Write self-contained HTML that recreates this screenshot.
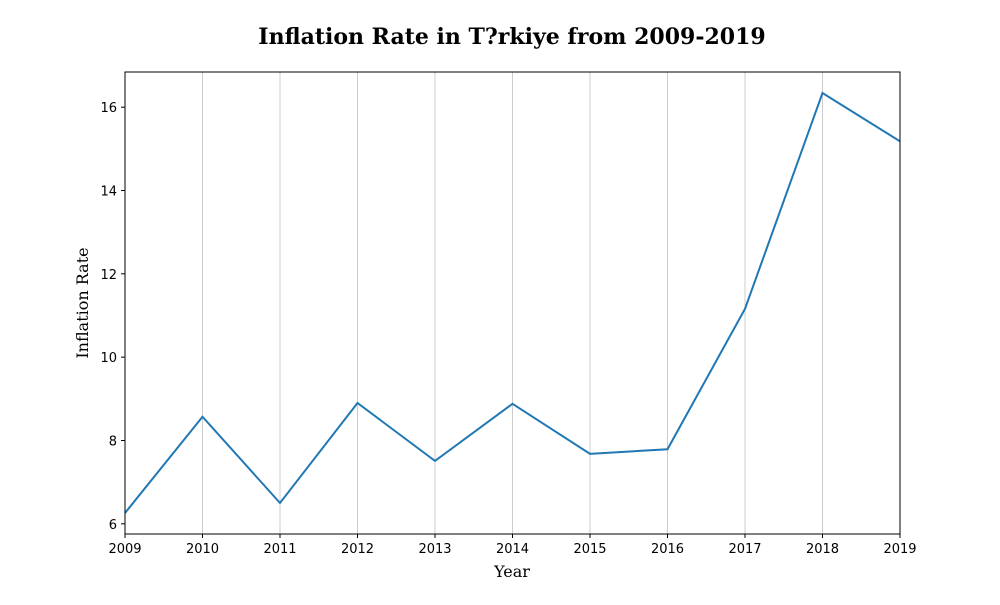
<!DOCTYPE html>
<html><head><meta charset="utf-8"><style>
body{margin:0;background:#fff;}
svg text{font-family:"DejaVu Sans","Liberation Sans",sans-serif;}
</style></head><body>
<svg id="chart" width="1000" height="600" xmlns="http://www.w3.org/2000/svg"></svg>
<script>
const years=[2009,2010,2011,2012,2013,2014,2015,2016,2017,2018,2019];
const rates=[6.26,8.57,6.50,8.90,7.51,8.88,7.68,7.79,11.16,16.34,15.18];
const yTicks=[6,8,10,12,14,16];
const L=125,R=900,T=72,B=534;
const ymin=5.756,ymax=16.844;
const xs=v=>L+(v-years[0])/(years[years.length-1]-years[0])*(R-L);
const ys=v=>B-(v-ymin)/(ymax-ymin)*(B-T);
const svg=document.getElementById('chart');
const NS='http://www.w3.org/2000/svg';
function mk(tag,attrs,parent){const e=document.createElementNS(NS,tag);for(const k in attrs)e.setAttribute(k,attrs[k]);(parent||svg).appendChild(e);return e;}
const title=mk('text',{x:512,y:44,'text-anchor':'middle','font-size':22,'font-weight':'bold',style:'font-family:"DejaVu Serif","Liberation Serif",serif'});
title.textContent='Inflation Rate in T?rkiye from 2009-2019';


years.forEach(y=>{
  const g=mk('line',{x1:xs(y),x2:xs(y),y1:T,y2:B,stroke:'#cccccc','stroke-width':1});
  
  
  const t=mk('line',{x1:xs(y),x2:xs(y),y1:B,y2:B+4,stroke:'#000'});
  
  
  const l=mk('text',{x:xs(y),y:B+19,'text-anchor':'middle','font-size':13});
  l.textContent=y;
  
  
});
yTicks.forEach(v=>{
  const t=mk('line',{x1:L-4,x2:L,y1:ys(v),y2:ys(v),stroke:'#000'});
  
  
  const l=mk('text',{x:L-8,y:ys(v)+5,'text-anchor':'end','font-size':13});
  l.textContent=v;
  
  
});
const line=mk('polyline',{points:years.map((y,i)=>xs(y)+','+ys(rates[i])).join(' '),fill:'none',stroke:'#1f77b4','stroke-width':2});


const frame=mk('rect',{x:L,y:T,width:R-L,height:B-T,fill:'none',stroke:'#000','stroke-width':1});


const xl=mk('text',{x:512,y:577,'text-anchor':'middle','font-size':16,style:'font-family:"DejaVu Serif","Liberation Serif",serif'});
xl.textContent='Year';


const yl=mk('text',{x:88,y:303,'text-anchor':'middle','font-size':16,transform:'rotate(-90 88 303)',style:'font-family:"DejaVu Serif","Liberation Serif",serif'});
yl.textContent='Inflation Rate';


</script>
</body></html>
